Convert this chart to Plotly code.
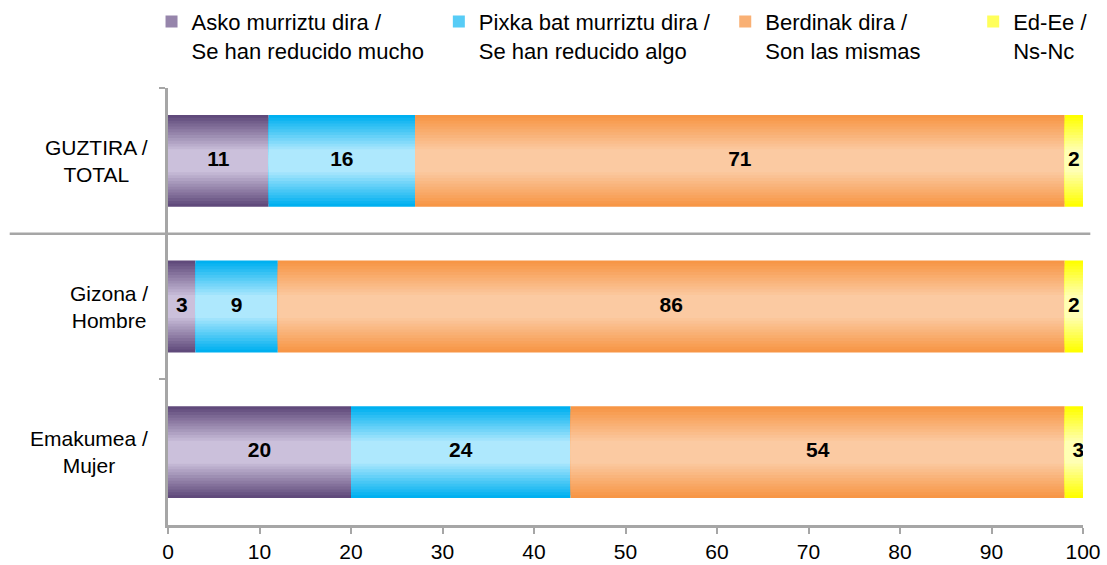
import plotly.graph_objects as go

# data
groups = ["GUZTIRA /<br>TOTAL", "Gizona /<br>Hombre", "Emakumea /<br>Mujer"]
series_names = [
    "Asko murriztu dira /<br>Se han reducido mucho",
    "Pixka bat murriztu dira /<br>Se han reducido algo",
    "Berdinak dira /<br>Son las mismas",
    "Ed-Ee /<br>Ns-Nc",
]
asko = [11, 3, 20]
pixka = [16, 9, 24]
berdinak = [71, 86, 54]
ns_nc = [2, 2, 3]
series_values = [asko, pixka, berdinak, ns_nc]

# edge colour -> centre colour for the vertical gradient look
edge_colors = ["#604a7b", "#00b0f0", "#f79646", "#ffff00"]
center_colors = ["#cbc0db", "#aee8fd", "#fbcaa2", "#ffffb4"]


def hex_to_rgb(h):
    h = h.lstrip("#")
    return [int(h[i:i + 2], 16) for i in (0, 2, 4)]


def mix(c1, c2, t):
    a, b = hex_to_rgb(c1), hex_to_rgb(c2)
    return "rgb({},{},{})".format(*[round(a[k] + (b[k] - a[k]) * t) for k in range(3)])


fig = go.Figure()

bar_width = 0.63
n_layers = 16
legend_ids = ["legend", "legend2", "legend3", "legend4"]

bases = [0, 0, 0]
for s, (name, vals) in enumerate(zip(series_names, series_values)):
    for i in range(n_layers):
        t = min(1.0, i / (n_layers * 0.75))
        fig.add_trace(go.Bar(
            y=groups, x=vals, base=list(bases),
            orientation="h",
            width=bar_width * (1 - i / n_layers),
            marker=dict(color=mix(edge_colors[s], center_colors[s], t), line=dict(width=0)),
            name=name,
            showlegend=(i == 6),
            legend=legend_ids[s],
            hoverinfo="skip",
        ))
    # value labels in the middle of each segment
    fig.add_trace(go.Scatter(
        y=groups, x=[b + v / 2 for b, v in zip(bases, vals)],
        mode="text", text=[str(v) for v in vals],
        textfont=dict(family="Liberation Sans, Arial", size=21, color="black", weight="bold"),
        showlegend=False, hoverinfo="skip",
    ))
    bases = [b + v for b, v in zip(bases, vals)]

# group labels, centred text to the left of the axis
for g in groups:
    fig.add_annotation(
        x=-0.02, xref="paper", y=g, yref="y",
        text=g, showarrow=False, xanchor="right", align="center",
        font=dict(family="Liberation Sans, Arial", size=21, color="black"),
    )

# separator between total and breakdown
fig.add_shape(type="line", xref="paper", yref="y",
              x0=-0.173, x1=1.008, y0=0.5, y1=0.5,
              line=dict(color="#a6a6a6", width=2.5))

legend_x = [-0.018, 0.296, 0.609, 0.880]
legend_common = dict(
    orientation="h", yanchor="top", y=1.2, xanchor="left",
    itemwidth=30, valign="top", bgcolor="rgba(0,0,0,0)",
    font=dict(family="Liberation Sans, Arial", size=22, color="black"),
)
fig.update_layout(
    legend=dict(x=legend_x[0], **legend_common),
    legend2=dict(x=legend_x[1], **legend_common),
    legend3=dict(x=legend_x[2], **legend_common),
    legend4=dict(x=legend_x[3], **legend_common),
)

axis_gray = "#a6a6a6"
fig.update_layout(
    barmode="overlay",
    width=1107, height=565,
    margin=dict(l=168, r=24, t=88, b=40, autoexpand=False),
    plot_bgcolor="white", paper_bgcolor="white",
    font=dict(family="Liberation Sans, Arial", size=20, color="black"),
    xaxis=dict(range=[0, 100], dtick=10, showgrid=False, zeroline=False,
               showline=True, linecolor=axis_gray, linewidth=2.5,
               ticks="outside", ticklen=6, tickwidth=2, tickcolor=axis_gray,
               tickfont=dict(size=21)),
    yaxis=dict(autorange="reversed", showticklabels=False, showgrid=False,
               showline=True, linecolor=axis_gray, linewidth=2.5,
               ticks="outside", tickson="boundaries", ticklen=6, tickwidth=2,
               tickcolor=axis_gray),
)

fig.write_html("out.html", config={"displayModeBar": False},
               post_script="document.body.style.margin='0';")
